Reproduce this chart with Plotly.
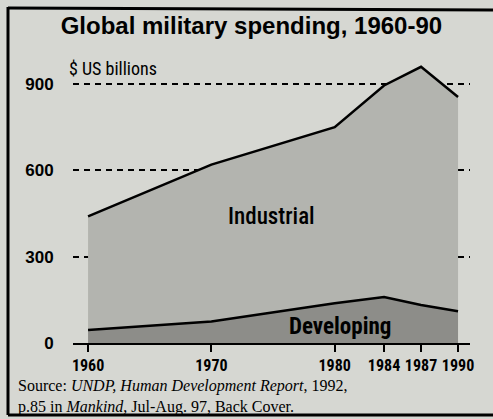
import plotly.graph_objects as go

years = [1960, 1970, 1980, 1984, 1987, 1990]
developing = [45, 75, 138, 160, 132, 110]
industrial = [395, 545, 612, 735, 828, 745]
y_ticks = [0, 300, 600, 900]
x_ticks = [1960, 1970, 1980, 1984, 1987, 1990]
x_tick_labels = ["1960", "1970", "1980", "1984", "1987", "1990"]

BG = "#d6d7d2"
IND = "#b3b4af"
DEV = "#8d8d89"
NARROW = "Liberation Sans Narrow, Roboto Condensed, Liberation Sans, Arial"

fig = go.Figure()
fig.add_trace(go.Scatter(x=years, y=developing, stackgroup="one", mode="lines",
                         line=dict(color="black", width=2.5), fillcolor=DEV,
                         name="Developing", showlegend=False))
fig.add_trace(go.Scatter(x=years, y=industrial, stackgroup="one", mode="lines",
                         line=dict(color="black", width=2.5), fillcolor=IND,
                         name="Industrial", showlegend=False))

fig.update_layout(
    width=493, height=419, autosize=False,
    margin=dict(l=73, r=23, t=61, b=76),
    paper_bgcolor=BG, plot_bgcolor=BG,
    title=dict(text="<b>Global military spending, 1960-90</b>", x=0.51, xanchor="center",
               y=0.94, yanchor="middle",
               font=dict(family="Liberation Sans, Arial", size=24, color="black")),
    xaxis=dict(range=[1958.78, 1990.97], showgrid=False, zeroline=False,
               showline=True, linecolor="black", linewidth=2, automargin=False,
               tickvals=x_ticks, ticktext=x_tick_labels, ticks="outside", tickangle=0,
               ticklen=7, tickwidth=2, tickcolor="black", ticklabelstandoff=0,
               tickfont=dict(family=NARROW, size=16, color="black", weight="bold")),
    yaxis=dict(range=[0, 980], tickvals=y_ticks, showgrid=True, gridcolor="black",
               gridwidth=1.5, griddash="6px,5px", zeroline=False, showline=False,
               automargin=False,
               ticks="outside", ticklen=15, tickcolor="rgba(0,0,0,0)",
               tickfont=dict(family="Liberation Sans, Arial", size=17, color="black", weight="bold")),
)

fig.add_annotation(text="$ US billions", xref="paper", yref="paper",
                   x=-0.015, y=(343 - 68) / 282, xanchor="left", yanchor="middle",
                   showarrow=False, font=dict(family=NARROW, size=18, color="black"))
fig.add_annotation(text="Industrial", xref="x", yref="y", x=1974.9, y=438,
                   showarrow=False, font=dict(family=NARROW, size=23, color="black", weight=500))
fig.add_annotation(text="<b>Developing</b>", xref="x", yref="y", x=1980.4, y=56,
                   showarrow=False, font=dict(family=NARROW, size=23, color="black"))
fig.add_annotation(text="Source: <i>UNDP, Human Development Report</i>, 1992,<br>"
                        "p.85 in <i>Mankind</i>, Jul-Aug. 97, Back Cover.",
                   xref="paper", yref="paper", x=(16 - 73) / 397, y=(343 - 396) / 282,
                   xanchor="left", yanchor="middle", align="left", showarrow=False,
                   font=dict(family="Liberation Serif, Times New Roman", size=16, color="black"))

# frame
def px(x):
    return (x - 73) / 397

def py(y):
    return (343 - y) / 282

frame = dict(color="black", width=3)
fig.add_shape(type="line", xref="paper", yref="paper", x0=px(8), x1=px(8), y0=py(7), y1=py(415), line=frame)
fig.add_shape(type="line", xref="paper", yref="paper", x0=px(8), x1=px(493), y0=py(8), y1=py(10), line=frame)
fig.add_shape(type="line", xref="paper", yref="paper", x0=px(8), x1=px(493), y0=py(415), y1=py(415), line=frame)

# remove the browser's default page margin so the figure fills the window
fig.write_html("out.html", config={"displayModeBar": False},
               post_script="document.body.style.margin='0px';")
